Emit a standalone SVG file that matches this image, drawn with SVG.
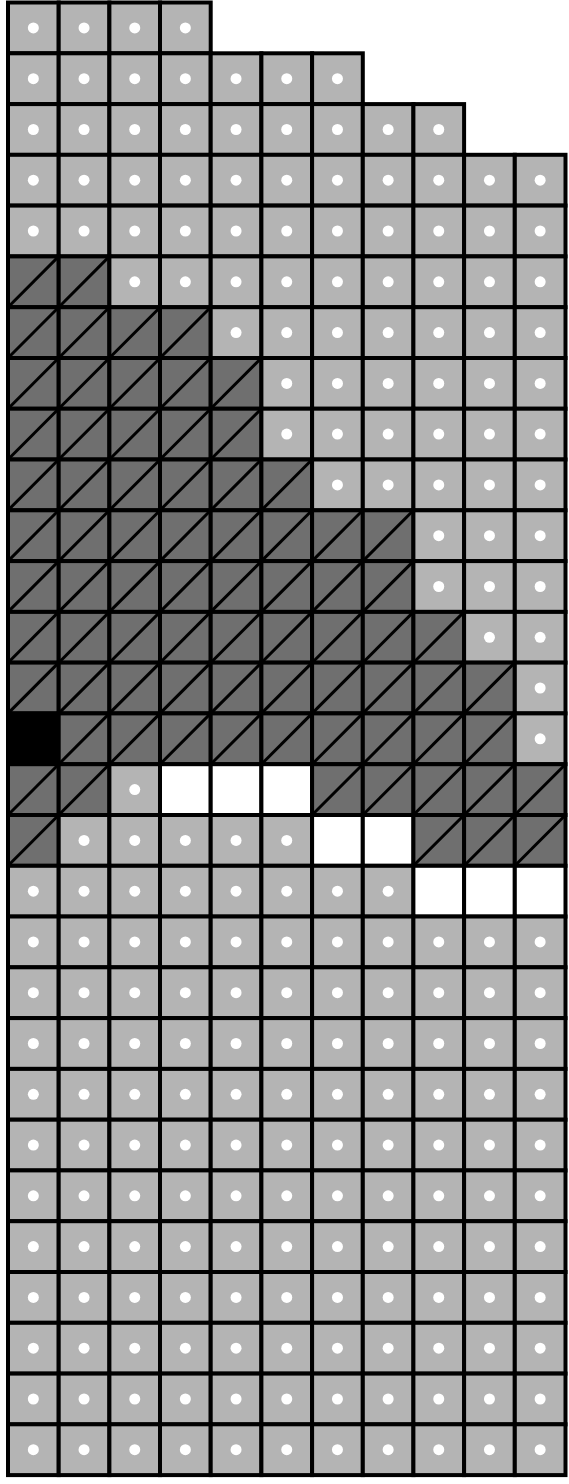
<svg xmlns="http://www.w3.org/2000/svg" width="569" height="1484" viewBox="0 0 569 1484">
<style>
.c{stroke:#000;stroke-width:4}
.l{fill:#b4b4b4}
.d{fill:#6f6f6f}
.w{fill:#fff}
.b{fill:#000}
.h{stroke:#000;stroke-width:3;fill:none}
.dot{fill:#fff}
</style>
<defs>
<g id="L"><rect class="c l" width="50.7" height="50.8"/><circle class="dot" cx="25.35" cy="25.4" r="5.5"/></g>
<g id="D"><rect class="c d" width="50.7" height="50.8"/><line class="h" x1="0" y1="50.8" x2="50.7" y2="0"/></g>
<g id="W"><rect class="c w" width="50.7" height="50.8"/></g>
<g id="B"><rect class="c b" width="50.7" height="50.8"/></g>
</defs>
<rect width="569" height="1484" fill="#fff"/>
<g id="row-0" transform="translate(0,2.5)"><use href="#L" x="8"/><use href="#L" x="58.7"/><use href="#L" x="109.4"/><use href="#L" x="160"/></g>
<g id="row-1" transform="translate(0,53.3)"><use href="#L" x="8"/><use href="#L" x="58.7"/><use href="#L" x="109.4"/><use href="#L" x="160"/><use href="#L" x="210.7"/><use href="#L" x="261.4"/><use href="#L" x="312.1"/></g>
<g id="row-2" transform="translate(0,104.1)"><use href="#L" x="8"/><use href="#L" x="58.7"/><use href="#L" x="109.4"/><use href="#L" x="160"/><use href="#L" x="210.7"/><use href="#L" x="261.4"/><use href="#L" x="312.1"/><use href="#L" x="362.8"/><use href="#L" x="413.4"/></g>
<g id="row-3" transform="translate(0,154.8)"><use href="#L" x="8"/><use href="#L" x="58.7"/><use href="#L" x="109.4"/><use href="#L" x="160"/><use href="#L" x="210.7"/><use href="#L" x="261.4"/><use href="#L" x="312.1"/><use href="#L" x="362.8"/><use href="#L" x="413.4"/><use href="#L" x="464.1"/><use href="#L" x="514.8"/></g>
<g id="row-4" transform="translate(0,205.6)"><use href="#L" x="8"/><use href="#L" x="58.7"/><use href="#L" x="109.4"/><use href="#L" x="160"/><use href="#L" x="210.7"/><use href="#L" x="261.4"/><use href="#L" x="312.1"/><use href="#L" x="362.8"/><use href="#L" x="413.4"/><use href="#L" x="464.1"/><use href="#L" x="514.8"/></g>
<g id="row-5" transform="translate(0,256.4)"><use href="#D" x="8"/><use href="#D" x="58.7"/><use href="#L" x="109.4"/><use href="#L" x="160"/><use href="#L" x="210.7"/><use href="#L" x="261.4"/><use href="#L" x="312.1"/><use href="#L" x="362.8"/><use href="#L" x="413.4"/><use href="#L" x="464.1"/><use href="#L" x="514.8"/></g>
<g id="row-6" transform="translate(0,307.2)"><use href="#D" x="8"/><use href="#D" x="58.7"/><use href="#D" x="109.4"/><use href="#D" x="160"/><use href="#L" x="210.7"/><use href="#L" x="261.4"/><use href="#L" x="312.1"/><use href="#L" x="362.8"/><use href="#L" x="413.4"/><use href="#L" x="464.1"/><use href="#L" x="514.8"/></g>
<g id="row-7" transform="translate(0,358)"><use href="#D" x="8"/><use href="#D" x="58.7"/><use href="#D" x="109.4"/><use href="#D" x="160"/><use href="#D" x="210.7"/><use href="#L" x="261.4"/><use href="#L" x="312.1"/><use href="#L" x="362.8"/><use href="#L" x="413.4"/><use href="#L" x="464.1"/><use href="#L" x="514.8"/></g>
<g id="row-8" transform="translate(0,408.7)"><use href="#D" x="8"/><use href="#D" x="58.7"/><use href="#D" x="109.4"/><use href="#D" x="160"/><use href="#D" x="210.7"/><use href="#L" x="261.4"/><use href="#L" x="312.1"/><use href="#L" x="362.8"/><use href="#L" x="413.4"/><use href="#L" x="464.1"/><use href="#L" x="514.8"/></g>
<g id="row-9" transform="translate(0,459.5)"><use href="#D" x="8"/><use href="#D" x="58.7"/><use href="#D" x="109.4"/><use href="#D" x="160"/><use href="#D" x="210.7"/><use href="#D" x="261.4"/><use href="#L" x="312.1"/><use href="#L" x="362.8"/><use href="#L" x="413.4"/><use href="#L" x="464.1"/><use href="#L" x="514.8"/></g>
<g id="row-10" transform="translate(0,510.3)"><use href="#D" x="8"/><use href="#D" x="58.7"/><use href="#D" x="109.4"/><use href="#D" x="160"/><use href="#D" x="210.7"/><use href="#D" x="261.4"/><use href="#D" x="312.1"/><use href="#D" x="362.8"/><use href="#L" x="413.4"/><use href="#L" x="464.1"/><use href="#L" x="514.8"/></g>
<g id="row-11" transform="translate(0,561.1)"><use href="#D" x="8"/><use href="#D" x="58.7"/><use href="#D" x="109.4"/><use href="#D" x="160"/><use href="#D" x="210.7"/><use href="#D" x="261.4"/><use href="#D" x="312.1"/><use href="#D" x="362.8"/><use href="#L" x="413.4"/><use href="#L" x="464.1"/><use href="#L" x="514.8"/></g>
<g id="row-12" transform="translate(0,611.9)"><use href="#D" x="8"/><use href="#D" x="58.7"/><use href="#D" x="109.4"/><use href="#D" x="160"/><use href="#D" x="210.7"/><use href="#D" x="261.4"/><use href="#D" x="312.1"/><use href="#D" x="362.8"/><use href="#D" x="413.4"/><use href="#L" x="464.1"/><use href="#L" x="514.8"/></g>
<g id="row-13" transform="translate(0,662.6)"><use href="#D" x="8"/><use href="#D" x="58.7"/><use href="#D" x="109.4"/><use href="#D" x="160"/><use href="#D" x="210.7"/><use href="#D" x="261.4"/><use href="#D" x="312.1"/><use href="#D" x="362.8"/><use href="#D" x="413.4"/><use href="#D" x="464.1"/><use href="#L" x="514.8"/></g>
<g id="row-14" transform="translate(0,713.4)"><use href="#B" x="8"/><use href="#D" x="58.7"/><use href="#D" x="109.4"/><use href="#D" x="160"/><use href="#D" x="210.7"/><use href="#D" x="261.4"/><use href="#D" x="312.1"/><use href="#D" x="362.8"/><use href="#D" x="413.4"/><use href="#D" x="464.1"/><use href="#L" x="514.8"/></g>
<g id="row-15" transform="translate(0,764.2)"><use href="#D" x="8"/><use href="#D" x="58.7"/><use href="#L" x="109.4"/><use href="#W" x="160"/><use href="#W" x="210.7"/><use href="#W" x="261.4"/><use href="#D" x="312.1"/><use href="#D" x="362.8"/><use href="#D" x="413.4"/><use href="#D" x="464.1"/><use href="#D" x="514.8"/></g>
<g id="row-16" transform="translate(0,815)"><use href="#D" x="8"/><use href="#L" x="58.7"/><use href="#L" x="109.4"/><use href="#L" x="160"/><use href="#L" x="210.7"/><use href="#L" x="261.4"/><use href="#W" x="312.1"/><use href="#W" x="362.8"/><use href="#D" x="413.4"/><use href="#D" x="464.1"/><use href="#D" x="514.8"/></g>
<g id="row-17" transform="translate(0,865.8)"><use href="#L" x="8"/><use href="#L" x="58.7"/><use href="#L" x="109.4"/><use href="#L" x="160"/><use href="#L" x="210.7"/><use href="#L" x="261.4"/><use href="#L" x="312.1"/><use href="#L" x="362.8"/><use href="#W" x="413.4"/><use href="#W" x="464.1"/><use href="#W" x="514.8"/></g>
<g id="row-18" transform="translate(0,916.5)"><use href="#L" x="8"/><use href="#L" x="58.7"/><use href="#L" x="109.4"/><use href="#L" x="160"/><use href="#L" x="210.7"/><use href="#L" x="261.4"/><use href="#L" x="312.1"/><use href="#L" x="362.8"/><use href="#L" x="413.4"/><use href="#L" x="464.1"/><use href="#L" x="514.8"/></g>
<g id="row-19" transform="translate(0,967.3)"><use href="#L" x="8"/><use href="#L" x="58.7"/><use href="#L" x="109.4"/><use href="#L" x="160"/><use href="#L" x="210.7"/><use href="#L" x="261.4"/><use href="#L" x="312.1"/><use href="#L" x="362.8"/><use href="#L" x="413.4"/><use href="#L" x="464.1"/><use href="#L" x="514.8"/></g>
<g id="row-20" transform="translate(0,1018.1)"><use href="#L" x="8"/><use href="#L" x="58.7"/><use href="#L" x="109.4"/><use href="#L" x="160"/><use href="#L" x="210.7"/><use href="#L" x="261.4"/><use href="#L" x="312.1"/><use href="#L" x="362.8"/><use href="#L" x="413.4"/><use href="#L" x="464.1"/><use href="#L" x="514.8"/></g>
<g id="row-21" transform="translate(0,1068.9)"><use href="#L" x="8"/><use href="#L" x="58.7"/><use href="#L" x="109.4"/><use href="#L" x="160"/><use href="#L" x="210.7"/><use href="#L" x="261.4"/><use href="#L" x="312.1"/><use href="#L" x="362.8"/><use href="#L" x="413.4"/><use href="#L" x="464.1"/><use href="#L" x="514.8"/></g>
<g id="row-22" transform="translate(0,1119.7)"><use href="#L" x="8"/><use href="#L" x="58.7"/><use href="#L" x="109.4"/><use href="#L" x="160"/><use href="#L" x="210.7"/><use href="#L" x="261.4"/><use href="#L" x="312.1"/><use href="#L" x="362.8"/><use href="#L" x="413.4"/><use href="#L" x="464.1"/><use href="#L" x="514.8"/></g>
<g id="row-23" transform="translate(0,1170.4)"><use href="#L" x="8"/><use href="#L" x="58.7"/><use href="#L" x="109.4"/><use href="#L" x="160"/><use href="#L" x="210.7"/><use href="#L" x="261.4"/><use href="#L" x="312.1"/><use href="#L" x="362.8"/><use href="#L" x="413.4"/><use href="#L" x="464.1"/><use href="#L" x="514.8"/></g>
<g id="row-24" transform="translate(0,1221.2)"><use href="#L" x="8"/><use href="#L" x="58.7"/><use href="#L" x="109.4"/><use href="#L" x="160"/><use href="#L" x="210.7"/><use href="#L" x="261.4"/><use href="#L" x="312.1"/><use href="#L" x="362.8"/><use href="#L" x="413.4"/><use href="#L" x="464.1"/><use href="#L" x="514.8"/></g>
<g id="row-25" transform="translate(0,1272)"><use href="#L" x="8"/><use href="#L" x="58.7"/><use href="#L" x="109.4"/><use href="#L" x="160"/><use href="#L" x="210.7"/><use href="#L" x="261.4"/><use href="#L" x="312.1"/><use href="#L" x="362.8"/><use href="#L" x="413.4"/><use href="#L" x="464.1"/><use href="#L" x="514.8"/></g>
<g id="row-26" transform="translate(0,1322.8)"><use href="#L" x="8"/><use href="#L" x="58.7"/><use href="#L" x="109.4"/><use href="#L" x="160"/><use href="#L" x="210.7"/><use href="#L" x="261.4"/><use href="#L" x="312.1"/><use href="#L" x="362.8"/><use href="#L" x="413.4"/><use href="#L" x="464.1"/><use href="#L" x="514.8"/></g>
<g id="row-27" transform="translate(0,1373.6)"><use href="#L" x="8"/><use href="#L" x="58.7"/><use href="#L" x="109.4"/><use href="#L" x="160"/><use href="#L" x="210.7"/><use href="#L" x="261.4"/><use href="#L" x="312.1"/><use href="#L" x="362.8"/><use href="#L" x="413.4"/><use href="#L" x="464.1"/><use href="#L" x="514.8"/></g>
<g id="row-28" transform="translate(0,1424.3)"><use href="#L" x="8"/><use href="#L" x="58.7"/><use href="#L" x="109.4"/><use href="#L" x="160"/><use href="#L" x="210.7"/><use href="#L" x="261.4"/><use href="#L" x="312.1"/><use href="#L" x="362.8"/><use href="#L" x="413.4"/><use href="#L" x="464.1"/><use href="#L" x="514.8"/></g>
</svg>
